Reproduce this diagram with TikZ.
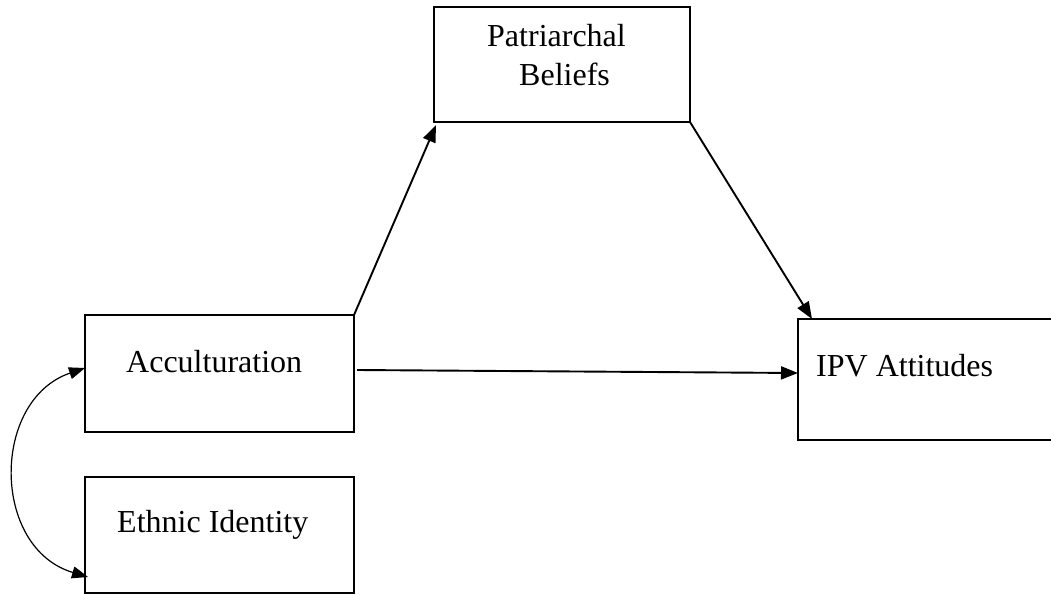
\documentclass[tikz,border=0pt]{standalone}
\usepackage{fontspec}
\setmainfont{Liberation Serif}
\usetikzlibrary{arrows.meta,calc}
\begin{document}
\begin{tikzpicture}[x=1pt,y=-1pt,
  varbox/.style={draw=black,line width=2pt,rectangle,inner sep=0pt,outer sep=0pt,anchor=north west},
  lbl/.style={inner sep=0pt,anchor=base west,font=\fontsize{32}{38}\selectfont},
  path/.style={line width=1.9pt,-{Triangle[length=17pt,width=13pt]}},
  covar/.style={line width=1.2pt,{Triangle[length=16pt,width=12pt]}-{Triangle[length=16pt,width=12pt]}}]
\clip (0,0) rectangle (1051,594);
\useasboundingbox (0,0) rectangle (1051,594);
% variables
\node[varbox,minimum width=256pt,minimum height=115pt] (pat) at (434,7) {};
\node[varbox,minimum width=269pt,minimum height=117pt] (acc) at (85,315) {};
\node[varbox,minimum width=269pt,minimum height=116pt] (eth) at (85,477) {};
\node[varbox,minimum width=270pt,minimum height=121pt] (ipv) at (798,319) {};
% labels
\node[lbl] (tpat1) at (487,47) {Patriarchal};
\node[lbl] (tpat2) at (519,85) {Beliefs};
\node[lbl] (tacc) at (126,372) {Acculturation};
\node[lbl] (teth) at (117,532) {Ethnic Identity};
\node[lbl] (tipv) at (816,376) {IPV Attitudes};
% paths
\draw[path] (acc.north east) -- ($(pat.south west)+(2,3)$);
\draw[path] (pat.south east) -- ($(ipv.north west)+(14,0)$);
\draw[path] ($(acc.north east)+(3,55)$) -- ($(ipv.north west)+(0,54)$);
% correlation between the predictors
\draw[covar] ($(acc.north west)+(0,53)$) .. controls (-9,400) and (-9,548) .. ($(eth.north west)+(3,100)$);
\end{tikzpicture}
\end{document}
